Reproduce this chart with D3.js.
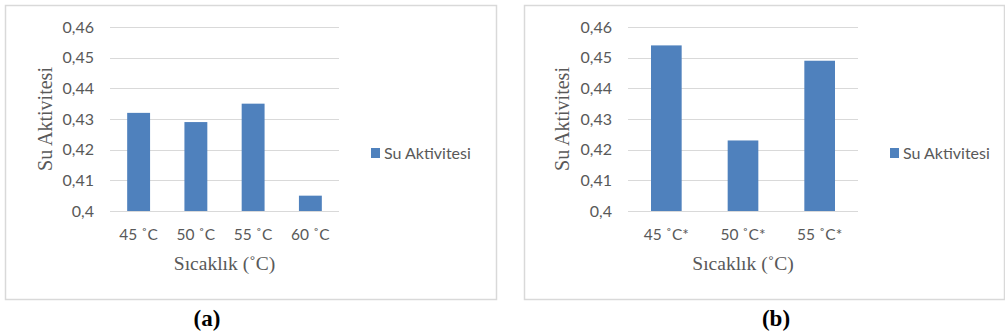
<!DOCTYPE html>
<html>
<head>
<meta charset="utf-8">
<script src="https://cdn.jsdelivr.net/npm/d3@7"></script>
<style>
  body { margin: 0; background: #fff; }
  svg { display: block; }
</style>
</head>
<body>
<div id="chart"></div>
<script>
// data
const categoriesA = ["45 ˚C", "50 ˚C", "55 ˚C", "60 ˚C"];
const valuesA = [0.432, 0.429, 0.435, 0.405];
const categoriesB = ["45 ˚C*", "50 ˚C*", "55 ˚C*"];
const valuesB = [0.454, 0.423, 0.449];
const yTicks = [0.4, 0.41, 0.42, 0.43, 0.44, 0.45, 0.46];
const seriesName = "Su Aktivitesi";
const xTitle = "Sıcaklık (˚C)";
const captions = ["(a)", "(b)"];

const W = 1005, H = 336;
const barColor = "#4f81bd";
const textColor = "#595959";
const gridColor = "#d9d9d9";
const tickFont = "Lato, 'Open Sans', sans-serif";
const serif = "'Liberation Serif', 'DejaVu Serif', serif";

const svg = d3.select("#chart").append("svg")
  .attr("width", W).attr("height", H);

const fmt = v => String(v).replace(".", ",");

function drawPanel(opts) {
  const g = svg.append("g").attr("transform", `translate(${opts.left}, 0)`);

  // outer frame
  g.append("rect")
    .attr("x", 0.5).attr("y", 5.5)
    .attr("width", opts.frameW).attr("height", 294)
    .attr("fill", "none").attr("stroke", gridColor).attr("stroke-width", 1.5);

  const x = d3.scaleBand()
    .domain(opts.categories)
    .range([opts.plotX0, opts.plotX1])
    .paddingInner(0.6).paddingOuter(0.3);

  const y = d3.scaleLinear().domain([0.4, 0.46]).range([211, 27]);

  // gridlines
  g.append("g")
    .selectAll("line")
    .data(yTicks)
    .join("line")
    .attr("x1", opts.plotX0).attr("x2", opts.plotX1)
    .attr("y1", d => Math.round(y(d)) + 0.5)
    .attr("y2", d => Math.round(y(d)) + 0.5)
    .attr("stroke", gridColor).attr("stroke-width", 1);

  // y tick labels
  g.append("g")
    .selectAll("text")
    .data(yTicks)
    .join("text")
    .attr("x", opts.plotX0 - 16)
    .attr("y", d => y(d))
    .attr("dy", "0.35em")
    .attr("text-anchor", "end")
    .attr("font-family", tickFont).attr("font-size", "16px")
    .attr("fill", textColor)
    .text(fmt);

  // bars
  g.append("g")
    .selectAll("rect")
    .data(opts.values)
    .join("rect")
    .attr("x", (d, i) => x(opts.categories[i]))
    .attr("width", x.bandwidth())
    .attr("y", d => y(d))
    .attr("height", d => y(0.4) - y(d))
    .attr("fill", barColor);

  // x tick labels
  g.append("g")
    .selectAll("text")
    .data(opts.categories)
    .join("text")
    .attr("x", d => x(d) + x.bandwidth() / 2)
    .attr("y", 240)
    .attr("text-anchor", "middle")
    .attr("font-family", tickFont).attr("font-size", "15.5px")
    .attr("fill", textColor)
    .text(d => d);

  // axis titles
  g.append("text")
    .attr("x", (opts.plotX0 + opts.plotX1) / 2)
    .attr("y", 270)
    .attr("text-anchor", "middle")
    .attr("font-family", serif).attr("font-size", "19.5px")
    .attr("fill", textColor)
    .text(xTitle);

  g.append("text")
    .attr("transform", `translate(${opts.yTitleX}, 119) rotate(-90)`)
    .attr("text-anchor", "middle")
    .attr("font-family", serif).attr("font-size", "20px")
    .attr("fill", textColor)
    .text(seriesName);

  // legend
  g.append("rect")
    .attr("x", opts.legendX).attr("y", 148)
    .attr("width", 9).attr("height", 10)
    .attr("fill", barColor);
  g.append("text")
    .attr("x", opts.legendX + 13).attr("y", 153)
    .attr("dy", "0.35em")
    .attr("font-family", tickFont).attr("font-size", "16px")
    .attr("fill", textColor)
    .text(seriesName);

  // caption below the frame
  g.append("text")
    .attr("x", opts.captionX).attr("y", 326)
    .attr("text-anchor", "middle")
    .attr("font-family", serif).attr("font-size", "23px")
    .attr("font-weight", "bold")
    .attr("fill", "#000")
    .text(opts.caption);
}

drawPanel({
  left: 5, frameW: 491,
  categories: categoriesA, values: valuesA,
  plotX0: 105, plotX1: 334,
  yTitleX: 47, legendX: 366, captionX: 202,
  caption: captions[0]
});

drawPanel({
  left: 524, frameW: 480,
  categories: categoriesB, values: valuesB,
  plotX0: 104, plotX1: 334,
  yTitleX: 45, legendX: 366, captionX: 252,
  caption: captions[1]
});
</script>
</body>
</html>
